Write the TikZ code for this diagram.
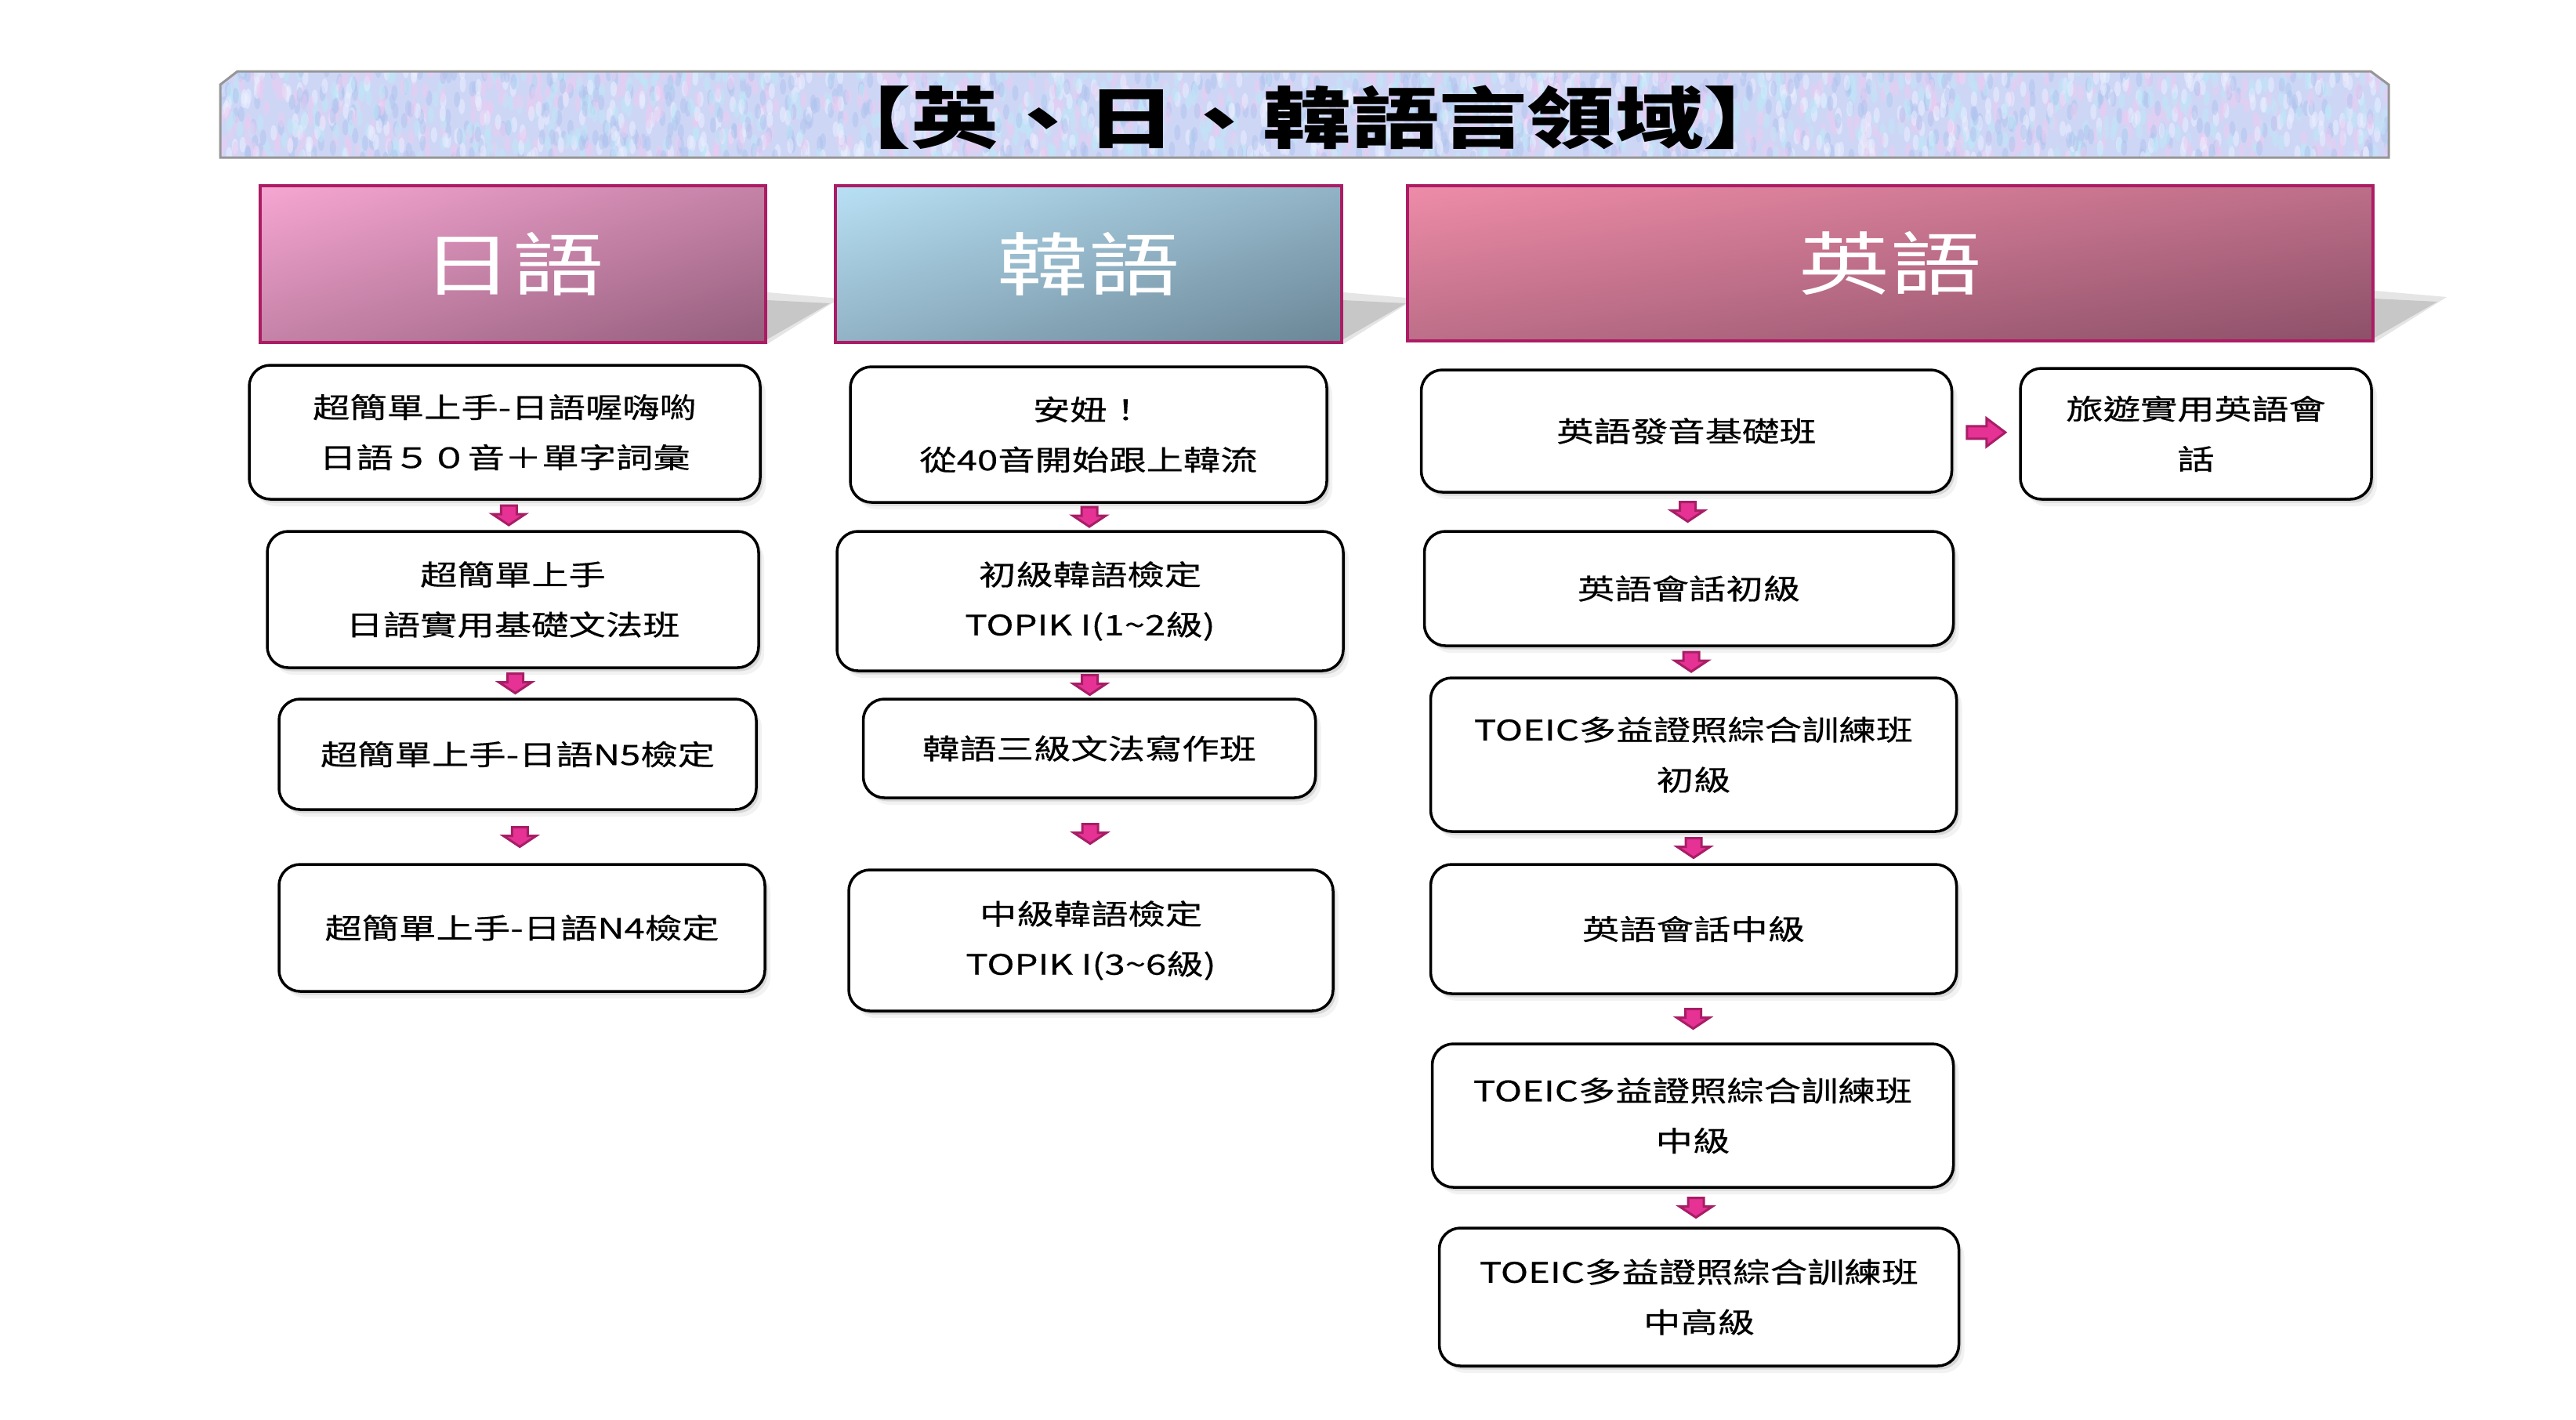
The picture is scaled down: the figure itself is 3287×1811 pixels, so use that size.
\documentclass[tikz,border=0pt]{standalone}
\usepackage{fontspec}
\setmainfont{Noto Sans CJK TC}[FakeStretch=1.32]
\newfontfamily\boxfont{Noto Sans CJK TC}[FakeStretch=1.32, FakeBold=0.45]
\usetikzlibrary{shadows,shadings,calc}
\pgfdeclarelayer{background}
\pgfsetlayers{background,main}
\definecolor{hJa}{RGB}{246,166,210}
\definecolor{hJb}{RGB}{148,94,124}
\definecolor{hKa}{RGB}{184,224,244}
\definecolor{hKb}{RGB}{106,134,150}
\definecolor{hEa}{RGB}{238,140,168}
\definecolor{hEb}{RGB}{140,80,104}
\definecolor{hdrborder}{RGB}{172,28,100}
\definecolor{arrowfill}{RGB}{230,50,148}
\definecolor{arrowline}{RGB}{168,30,102}
\definecolor{bannerline}{RGB}{150,150,150}
\definecolor{bannerbase}{RGB}{206,214,246}
\definecolor{tex1}{RGB}{236,204,242}
\definecolor{tex2}{RGB}{190,232,248}
\definecolor{tex3}{RGB}{176,196,238}
\definecolor{tex4}{RGB}{236,240,255}
\tikzset{
  sz/.style 2 args={minimum width=#1*0.01cm, minimum height=#2*0.01cm},
  course/.style={draw=black, line width=0.035cm, rounded corners=0.27cm, fill=white,
    inner sep=0pt, align=center, font=\boxfont\fontsize{10.2pt}{18.2pt}\selectfont,
    drop shadow={shadow xshift=0.035cm, shadow yshift=-0.045cm, opacity=0.22},
    drop shadow={shadow xshift=0.07cm, shadow yshift=-0.09cm, opacity=0.10}},
  header/.style={draw=hdrborder, line width=0.04cm, inner sep=0pt, text=white,
    font=\fontsize{25pt}{30pt}\selectfont},
  arrowstyle/.style={fill=arrowfill, draw=arrowline, line width=0.03cm, line join=miter},
  downarr/.pic={\draw[arrowstyle] (-10,12.5) -- (10,12.5) -- (10,1.5) -- (21,1.5)
    -- (0,-12.5) -- (-21,1.5) -- (-10,1.5) -- cycle;},
  rightarr/.pic={\draw[arrowstyle] (-24.5,8) -- (0.5,8) -- (0.5,18) -- (24.5,0)
    -- (0.5,-18) -- (0.5,-8) -- (-24.5,-8) -- cycle;},
}
\begin{document}
\begin{tikzpicture}[x=0.01cm, y=0.01cm]
\useasboundingbox (0,0) rectangle (3287,-1811);
\begin{pgfonlayer}{background}
  \fill[white] (0,0) rectangle (3287,-1811);
\end{pgfonlayer}

% banner
\begin{scope}
  \clip (303,-91) -- (3025,-91) -- (3048,-108) -- (3048,-201) -- (281,-201) -- (281,-108) -- cycle;
  \fill[bannerbase] (281,-91) rectangle (3048,-201);
  \pgfmathsetseed{42}
  \foreach \i in {1,...,2600}{
    \pgfmathsetmacro{\bx}{281+2767*rnd}
    \pgfmathsetmacro{\by}{-88-116*rnd}
    \pgfmathtruncatemacro{\bc}{random(1,4)}
    \fill[tex\bc, opacity=0.5] (\bx,\by) ellipse (4 and 10);
  }
\end{scope}
\draw[bannerline, line width=0.03cm] (303,-91) -- (3025,-91) -- (3048,-108) -- (3048,-201) -- (281,-201) -- (281,-108) -- cycle;
\node (title) at (1668,-150) {\fontsize{24.2pt}{29pt}\selectfont\bfseries 【英、日、韓語言領域】};

% headers
\node[header, sz={645}{200}, upper left=hJa, lower right=hJb, upper right=hJa!50!hJb, lower left=hJa!50!hJb] (hj) at (654.5,-337) {日語};
\node[header, sz={646}{200}, upper left=hKa, lower right=hKb, upper right=hKa!50!hKb, lower left=hKa!50!hKb] (hk) at (1389,-337) {韓語};
\node[header, sz={1232}{198}, upper left=hEa, lower right=hEb, upper right=hEa!50!hEb, lower left=hEa!50!hEb] (he) at (2412,-336) {英語};
\begin{pgfonlayer}{background}
  \foreach \h in {hj,hk,he}{
    \fill[black!10] (\h.south east) -- ++(92,58) -- ++(-92,8) -- cycle;
    \fill[black!22] ($(\h.south east)+(0,6)$) -- ++(80,46) -- ++(-80,4) -- cycle;
  }
\end{pgfonlayer}

% Japanese
\node[course, sz={652}{171}] (j1) at (644,-551.5) {超簡單上手-日語喔嗨喲\\日語５０音＋單字詞彙};
\node[course, sz={627}{174}] (j2) at (654.5,-765) {超簡單上手\\日語實用基礎文法班};
\node[course, sz={609}{141}] (j3) at (660.5,-962.5) {超簡單上手-日語N5檢定};
\node[course, sz={620}{162}] (j4) at (666,-1184) {超簡單上手-日語N4檢定};

% Korean
\node[course, sz={608}{173}] (k1) at (1389,-554.5) {安妞！\\從40音開始跟上韓流};
\node[course, sz={646}{178}] (k2) at (1391,-767) {初級韓語檢定\\TOPIK I(1\char"7E 2級)};
\node[course, sz={577}{126}] (k3) at (1390,-955) {韓語三級文法寫作班};
\node[course, sz={618}{180}] (k4) at (1392,-1200) {中級韓語檢定\\TOPIK I(3\char"7E 6級)};

% English
\node[course, sz={677}{156}] (e1) at (2152,-550) {英語發音基礎班};
\node[course, sz={448}{167}] (e1b) at (2802,-553.5) {旅遊實用英語會\\話};
\node[course, sz={675}{146}] (e2) at (2155,-751) {英語會話初級};
\node[course, sz={671}{196}] (e3) at (2161,-963) {TOEIC多益證照綜合訓練班\\初級};
\node[course, sz={671}{165}] (e4) at (2161,-1185.5) {英語會話中級};
\node[course, sz={665}{183}] (e5) at (2160,-1423.5) {TOEIC多益證照綜合訓練班\\中級};
\node[course, sz={663}{176}] (e6) at (2168,-1655) {TOEIC多益證照綜合訓練班\\中高級};

% arrows
\foreach \a/\b in {j1/j2,j2/j3,j3/j4,k1/k2,k2/k3,k3/k4,e1/e2,e2/e3,e3/e4,e4/e5,e5/e6}{
  \pic at ($(\a.south)!0.5!(\b.north)$) {downarr};
}
\pic at ($(e1.east)!0.5!(e1b.west)$) {rightarr};
\end{tikzpicture}
\end{document}
